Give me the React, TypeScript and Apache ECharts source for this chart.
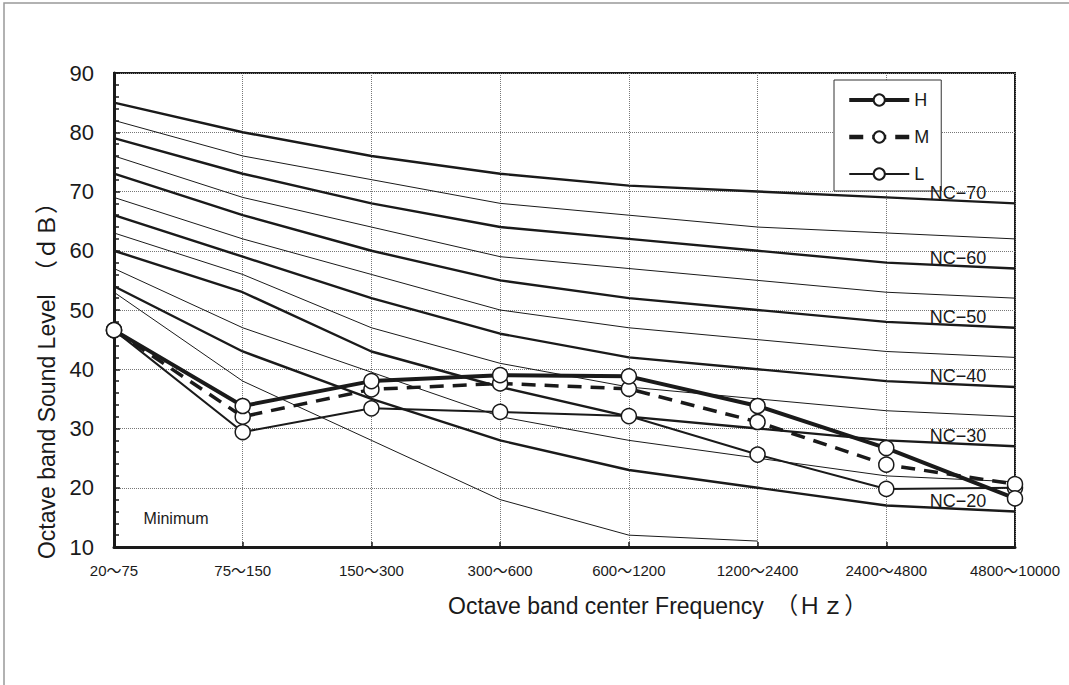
import React, { useEffect, useRef } from "react";
import * as echarts from "echarts";

const CATEGORIES = ["20～75", "75～150", "150～300", "300～600", "600～1200", "1200～2400", "2400～4800", "4800～10000"];

const NC70 = [85, 80, 76, 73, 71, 70, 69, 68];
const NC65 = [82, 76, 72, 68, 66, 64, 63, 62];
const NC60 = [79, 73, 68, 64, 62, 60, 58, 57];
const NC55 = [76, 69, 64, 59, 57, 55, 53, 52];
const NC50 = [73, 66, 60, 55, 52, 50, 48, 47];
const NC45 = [69, 62, 56, 50, 47, 45, 43, 42];
const NC40 = [66, 59, 52, 46, 42, 40, 38, 37];
const NC35 = [63, 56, 47, 41, 37, 35, 33, 32];
const NC30 = [60, 53, 43, 37, 32, 30, 28, 27];
const NC25 = [57, 47, 39.5, 32, 28, 25, 22, 21];
const NC20 = [54, 43, 35, 28, 23, 20, 17, 16];
const NC15 = [53, 38, 28, 18, 12, 11, null, null];

const H_VALUES = [46.6, 33.8, 38.0, 39.0, 38.8, 33.8, 26.7, 18.2];
const M_VALUES = [46.6, 32.0, 36.6, 37.6, 36.7, 31.1, 23.9, 20.6];
const L_VALUES = [46.6, 29.4, 33.4, 32.8, 32.1, 25.6, 19.8, 20.0];

const NC_THICK = [
  { name: "NC−70", values: NC70 },
  { name: "NC−60", values: NC60 },
  { name: "NC−50", values: NC50 },
  { name: "NC−40", values: NC40 },
  { name: "NC−30", values: NC30 },
  { name: "NC−20", values: NC20 },
];
const NC_THIN = [NC65, NC55, NC45, NC35, NC25, NC15];

const Y_MIN = 10;
const Y_MAX = 90;
const Y_INTERVAL = 10;

const FONT = "'Liberation Sans', Arial, 'Noto Sans CJK JP', sans-serif";
const INK = "#1a1a1a";

const H_STYLE = { width: 4, type: "solid" as any };
const M_STYLE = { width: 3.5, type: [14, 9] as any };
const L_STYLE = { width: 2, type: "solid" as any };

export default function App() {
  const ref = useRef<HTMLDivElement>(null);

  useEffect(() => {
    if (!ref.current) return;
    const chart = echarts.init(ref.current, null, { renderer: "svg" });

    const labelX = 6.557;
    const interp = (vals: (number | null)[]) => {
      const a = vals[6] as number;
      const b = vals[7] as number;
      return a + (b - a) * (labelX - 6);
    };

    const ncSeries: any[] = [];
    NC_THICK.forEach((c) => {
      ncSeries.push({
        type: "line",
        name: c.name,
        data: c.values,
        showSymbol: false,
        symbol: "none",
        silent: true,
        lineStyle: { color: INK, width: 2.4 },
        z: 3,
      });
    });
    NC_THIN.forEach((vals, i) => {
      ncSeries.push({
        type: "line",
        name: "thin" + i,
        data: vals,
        showSymbol: false,
        symbol: "none",
        silent: true,
        connectNulls: false,
        lineStyle: { color: INK, width: 1 },
        z: 3,
      });
    });

    const dataStyle = (ls: any) => ({
      type: "line",
      symbol: "circle",
      symbolSize: 15,
      showSymbol: true,
      itemStyle: { color: "#ffffff", borderColor: INK, borderWidth: 1.5 },
      lineStyle: { color: INK, width: ls.width, type: ls.type },
      z: 5,
    });

    const baseGraphic: any[] = [
      {
        id: "frame",
        type: "rect",
        silent: true,
        z: -10,
        shape: { x: 4, y: 3, width: 1100, height: 700 },
        style: { fill: "none", stroke: "#999", lineWidth: 1.5 },
      },
      {
        id: "ytitle",
        type: "text",
        x: 47,
        y: 375,
        rotation: Math.PI / 2,
        style: {
          text: "Octave band Sound Level　（ｄＢ）",
          font: `23px ${FONT}`,
          fill: INK,
          textAlign: "center",
          textVerticalAlign: "middle",
        },
      },
      {
        id: "xtitle",
        type: "text",
        x: 448,
        y: 606,
        style: {
          text: "Octave band center Frequency　（Ｈｚ）",
          font: `23px ${FONT}`,
          fill: INK,
          textAlign: "left",
          textVerticalAlign: "middle",
        },
      },
      {
        id: "minimum",
        type: "text",
        x: 176,
        y: 518,
        style: {
          text: "Minimum",
          font: `16px ${FONT}`,
          fill: INK,
          textAlign: "center",
          textVerticalAlign: "middle",
        },
      },
    ];

    const option: any = {
      animation: false,
      backgroundColor: "#ffffff",
      textStyle: { fontFamily: FONT },
      grid: {
        left: 114,
        right: 54,
        top: 73,
        bottom: 138,
        show: true,
        borderColor: INK,
        borderWidth: 2,
        backgroundColor: "transparent",
      },
      legend: {
        data: [
          { name: "H", lineStyle: { color: INK, width: H_STYLE.width, type: H_STYLE.type } },
          { name: "M", lineStyle: { color: INK, width: M_STYLE.width + 1, type: M_STYLE.type } },
          { name: "L", lineStyle: { color: INK, width: L_STYLE.width, type: L_STYLE.type } },
        ],
        orient: "vertical",
        left: 834,
        top: 80,
        padding: [11, 12, 8, 13],
        itemWidth: 60,
        itemHeight: 14,
        itemGap: 19,
        borderColor: "#333",
        borderWidth: 1,
        backgroundColor: "#ffffff",
        textStyle: { fontSize: 18, color: INK, fontFamily: FONT },
      },
      xAxis: [
        {
          type: "category",
          data: CATEGORIES,
          boundaryGap: false,
          axisLine: { show: true, lineStyle: { color: INK, width: 3 } },
          axisTick: { show: true, inside: true, length: 5, lineStyle: { color: INK, width: 1.5 } },
          axisLabel: { fontSize: 15, color: INK, margin: 16, fontFamily: FONT },
          splitLine: { show: true, lineStyle: { color: "#777", type: "dotted", width: 1 } },
        },
        {
          type: "value",
          min: 0,
          max: 7,
          show: false,
        },
      ],
      yAxis: {
        type: "value",
        min: Y_MIN,
        max: Y_MAX,
        interval: Y_INTERVAL,
        axisLine: { show: true, lineStyle: { color: INK, width: 3 } },
        axisTick: { show: true, inside: true, length: 6, lineStyle: { color: INK, width: 1.5 } },
        minorTick: { show: true, splitNumber: 5, length: 5, lineStyle: { color: INK, width: 1.5 } },
        axisLabel: { fontSize: 22, color: INK, margin: 20, fontFamily: FONT },
        splitLine: { show: true, lineStyle: { color: "#777", type: "dotted", width: 1 } },
      },
      series: [
        ...ncSeries,
        { ...dataStyle(L_STYLE), name: "L", data: L_VALUES },
        { ...dataStyle(M_STYLE), name: "M", data: M_VALUES },
        { ...dataStyle(H_STYLE), name: "H", data: H_VALUES },
      ],
      graphic: baseGraphic,
    };

    chart.setOption(option);

    const labelGraphics = NC_THICK.map((c, i) => {
      const pt = chart.convertToPixel({ xAxisIndex: 1, yAxisIndex: 0 } as any, [labelX, interp(c.values)]) as number[];
      return {
        id: "nclabel" + i,
        type: "text",
        x: pt[0],
        y: pt[1] - 8,
        z: 4,
        silent: true,
        style: {
          text: c.name,
          font: `18px ${FONT}`,
          fill: INK,
          textAlign: "center",
          textVerticalAlign: "middle",
        },
      };
    });
    chart.setOption({ graphic: [...baseGraphic, ...labelGraphics] });

    return () => chart.dispose();
  }, []);

  return (
    <div
      ref={ref}
      style={{ position: "fixed", left: 0, top: 0, width: 1069, height: 685, background: "#fff" }}
    />
  );
}
